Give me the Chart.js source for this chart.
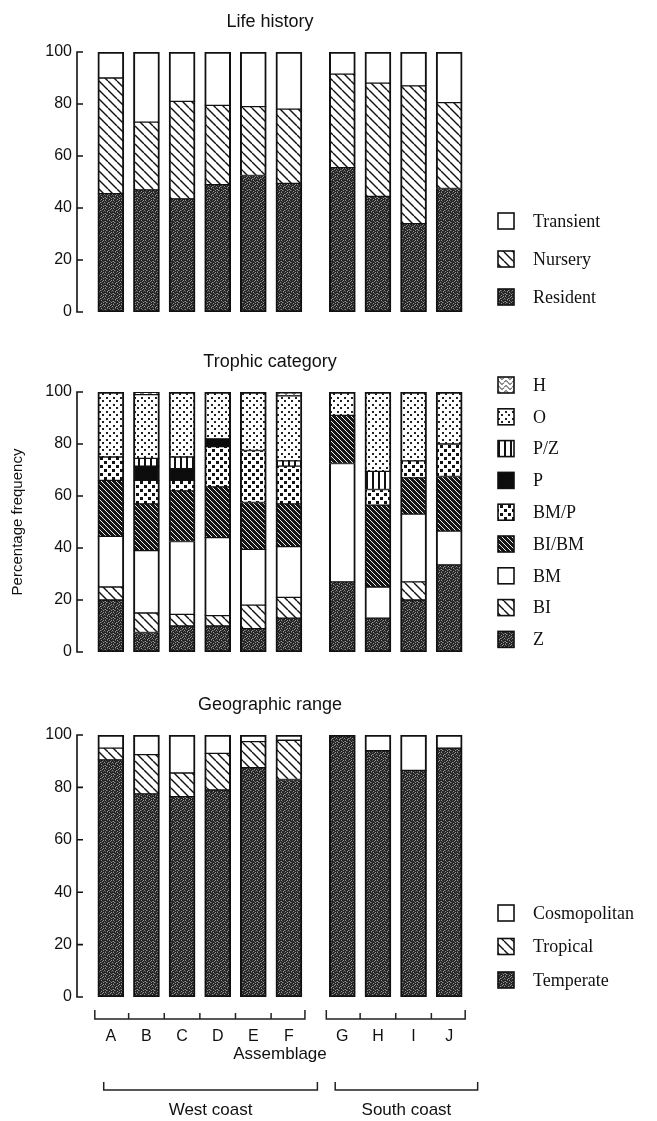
<!DOCTYPE html>
<html>
<head>
<meta charset="utf-8">
<script src="https://cdn.jsdelivr.net/npm/chart.js@4.4.1/dist/chart.umd.min.js"></script>
<style>
  html, body { margin: 0; padding: 0; background: #fff; }
  #wrap { position: relative; width: 657px; height: 1121px; overflow: hidden; }
  #wrap canvas { position: absolute; left: 0; }
</style>
</head>
<body>
<div id="wrap">
  <canvas id="lifeChart" width="657" height="340" style="top:0px"></canvas>
  <canvas id="trophicChart" width="657" height="340" style="top:340px"></canvas>
  <canvas id="rangeChart" width="657" height="441" style="top:680px"></canvas>
</div>
<script>
var westSites = ['A', 'B', 'C', 'D', 'E', 'F'];
var southSites = ['G', 'H', 'I', 'J'];
var sites = westSites.concat(southSites);
var yTicks = [0, 20, 40, 60, 80, 100];

// Life history (% of species)
var resident  = [45.5, 47, 43.5, 49, 52.5, 49.5, 55.5, 44.5, 34, 47.5];
var nursery   = [44.5, 26, 37.5, 30.5, 26.5, 28.5, 36, 43.5, 53, 33];
var transient = [10, 27, 19, 20.5, 21, 22, 8.5, 12, 13, 19.5];

// Trophic category
var trophZ    = [20, 7.5, 10, 10, 9, 13, 27, 13, 20, 33.5];
var trophBI   = [5, 7.5, 4.5, 4, 9, 8, 0, 0, 7, 0];
var trophBM   = [19.5, 24, 28, 30, 21.5, 19.5, 45.5, 12, 26, 13];
var trophBIBM = [21.5, 18, 19.5, 19.5, 18, 16.5, 18.5, 31.5, 14, 21];
var trophBMP  = [9, 9, 4, 15.5, 20, 14.5, 0, 6, 6.5, 12.5];
var trophP    = [0, 5.5, 4.5, 3, 0, 0, 0, 0, 0, 0];
var trophPZ   = [0, 3, 4.5, 0, 0, 2, 0, 7, 0, 0];
var trophO    = [25, 24.5, 25, 18, 22.5, 25, 9, 30.5, 26.5, 20];
var trophH    = [0, 1, 0, 0, 0, 1.5, 0, 0, 0, 0];

// Geographic range
var temperate    = [90.5, 77.5, 76.5, 79, 87.5, 83, 100, 94, 86.5, 95];
var tropical     = [4.5, 15, 9, 14, 10, 15, 0, 0, 0, 0];
var cosmopolitan = [5, 7.5, 14.5, 7, 2.5, 2, 0, 6, 13.5, 5];

// half a slot of space between the two coasts
var coastGap = 0.5;
var sitePos = sites.map(function (s, i) { return i + (i >= westSites.length ? coastGap : 0); });

var SANS = '"Liberation Sans", Arial, sans-serif';
var SERIF = '"Liberation Serif", "Times New Roman", serif';
var INK = '#111';

/* ---- fill patterns ---- */
function makePattern(w, h, draw) {
  var c = document.createElement('canvas');
  c.width = w; c.height = h;
  var g = c.getContext('2d');
  g.fillStyle = '#fff';
  g.fillRect(0, 0, w, h);
  draw(g, w, h);
  return g.createPattern(c, 'repeat');
}

// speckled grey used for Resident / Z / Temperate
var stippleMap = [
  '.o..+..o',
  '..+...o.',
  'o...o+..',
  '.+.o...+',
  '...+.o..',
  '+o....+.',
  '..o+...o',
  '.+...o..'
];
var stippleCol = { '.': '#242424', '+': '#5a5a5a', 'o': '#969696' };

var fillStipple = makePattern(8, 8, function (g) {
  stippleMap.forEach(function (row, y) {
    row.split('').forEach(function (ch, x) {
      g.fillStyle = stippleCol[ch];
      g.fillRect(x, y, 1, 1);
    });
  });
});
var fillHatch = makePattern(9, 9, function (g, w, h) {
  g.strokeStyle = INK; g.lineWidth = 1.4;
  [-w, 0, w].forEach(function (k) { g.beginPath(); g.moveTo(k, 0); g.lineTo(k + w, h); g.stroke(); });
});
var fillDarkHatch = makePattern(5, 5, function (g, w, h) {
  g.fillStyle = '#161616'; g.fillRect(0, 0, w, h);
  g.strokeStyle = '#eee'; g.lineWidth = 1;
  [-w, 0, w].forEach(function (k) { g.beginPath(); g.moveTo(k, 0); g.lineTo(k + w, h); g.stroke(); });
});
var fillBlots = makePattern(8, 8, function (g) {
  g.fillStyle = INK;
  g.fillRect(0, 1, 3, 3);
  g.fillRect(4, 5, 3, 3);
});
var fillDots = makePattern(7, 7, function (g) {
  g.fillStyle = '#222';
  g.fillRect(1, 1, 2, 2);
  g.fillRect(4, 4, 2, 2);
});
var fillVLines = makePattern(6, 1, function (g) {
  g.fillStyle = INK; g.fillRect(0, 0, 2, 1);
});
var fillWaves = makePattern(8, 5, function (g) {
  g.strokeStyle = INK; g.lineWidth = 1;
  g.beginPath(); g.moveTo(0, 2.5);
  g.bezierCurveTo(2, 0, 2, 0, 4, 2.5);
  g.bezierCurveTo(6, 5, 6, 5, 8, 2.5);
  g.stroke();
});
var fillWhite = '#fff';
var fillBlack = '#0c0c0c';

// thicker outline on the outer top/bottom of each stacked bar
function segmentBorder(ctx) {
  var sets = ctx.chart.data.datasets, i = ctx.dataIndex, d = ctx.datasetIndex;
  var filled = function (k) { return sets[k].data[i].y !== null; };
  var above = false, below = false;
  for (var k = d + 1; k < sets.length; k++) { if (filled(k)) above = true; }
  for (var k2 = 0; k2 < d; k2++) { if (filled(k2)) below = true; }
  return { top: above ? 1 : 2, bottom: below ? 1 : 2, left: 2, right: 2 };
}

function stackSet(label, values, fill) {
  return {
    label: label,
    data: values.map(function (v, i) { return { x: sitePos[i], y: v > 0 ? v : null }; }),
    backgroundColor: fill,
    borderColor: INK,
    borderWidth: segmentBorder,
    borderSkipped: false,
    barThickness: 26
  };
}

/* ---- plugins ---- */
var inwardAxis = {
  id: 'inwardAxis',
  afterDraw: function (chart) {
    var ctx = chart.ctx, y = chart.scales.y, x0 = chart.chartArea.left;
    ctx.save();
    ctx.strokeStyle = INK; ctx.lineWidth = 1.6;
    ctx.beginPath();
    ctx.moveTo(x0, y.getPixelForValue(100) - 0.8);
    ctx.lineTo(x0, y.getPixelForValue(0) + 0.8);
    yTicks.forEach(function (v) {
      var py = y.getPixelForValue(v);
      ctx.moveTo(x0, py); ctx.lineTo(x0 + 6, py);
    });
    ctx.stroke();
    ctx.restore();
  }
};

var panelTitle = {
  id: 'panelTitle',
  afterDraw: function (chart, args, opts) {
    var ctx = chart.ctx;
    ctx.save();
    ctx.font = '18px ' + SANS;
    ctx.fillStyle = INK;
    ctx.textAlign = 'center';
    ctx.textBaseline = 'middle';
    ctx.fillText(opts.text, opts.x, chart.chartArea.top - opts.gap);
    ctx.restore();
  }
};

var swatchLegend = {
  id: 'swatchLegend',
  afterDraw: function (chart, args, opts) {
    var ctx = chart.ctx;
    var sets = chart.data.datasets.slice().reverse();
    ctx.save();
    ctx.font = '18px ' + SERIF;
    ctx.textBaseline = 'middle';
    sets.forEach(function (ds, i) {
      var cy = opts.top + i * opts.step;
      ctx.fillStyle = ds.backgroundColor;
      ctx.fillRect(opts.x, cy - 8, 16, 16);
      ctx.strokeStyle = INK; ctx.lineWidth = 1.6;
      ctx.strokeRect(opts.x, cy - 8, 16, 16);
      ctx.fillStyle = INK;
      ctx.fillText(ds.label, opts.x + 35, cy + 1);
    });
    ctx.restore();
  }
};

// brackets under the bottom panel
var coastBrackets = {
  id: 'coastBrackets',
  afterDraw: function (chart, args, opts) {
    var ctx = chart.ctx, xs = chart.scales.x;
    var groups = [
      { name: 'West coast', pos: sitePos.slice(0, westSites.length) },
      { name: 'South coast', pos: sitePos.slice(westSites.length) }
    ];
    ctx.save();
    ctx.strokeStyle = '#222'; ctx.lineWidth = 1.5;
    ctx.fillStyle = INK;
    ctx.font = '17px ' + SANS;
    ctx.textAlign = 'center';
    ctx.textBaseline = 'middle';
    groups.forEach(function (g) {
      var p = g.pos, first = p[0], last = p[p.length - 1];
      // small bracket with a tick between each pair of bars
      var l = xs.getPixelForValue(first - 0.45), r = xs.getPixelForValue(last + 0.45);
      ctx.beginPath();
      ctx.moveTo(l, opts.smallY - 9); ctx.lineTo(l, opts.smallY);
      ctx.lineTo(r, opts.smallY); ctx.lineTo(r, opts.smallY - 9);
      for (var i = 1; i < p.length; i++) {
        var mx = xs.getPixelForValue((p[i - 1] + p[i]) / 2);
        ctx.moveTo(mx, opts.smallY); ctx.lineTo(mx, opts.smallY - 6);
      }
      ctx.stroke();
      // large coast bracket
      var bl = xs.getPixelForValue(first - 0.2), br = xs.getPixelForValue(last + 0.8);
      ctx.beginPath();
      ctx.moveTo(bl, opts.bigY - 8); ctx.lineTo(bl, opts.bigY);
      ctx.lineTo(br, opts.bigY); ctx.lineTo(br, opts.bigY - 8);
      ctx.stroke();
      ctx.fillText(g.name, (bl + br) / 2, opts.bigY + 20);
    });
    ctx.restore();
  }
};

function yScale(withTitle) {
  return {
    type: 'linear',
    stacked: true,
    min: 0,
    max: 100,
    afterBuildTicks: function (scale) { scale.ticks = yTicks.map(function (v) { return { value: v }; }); },
    afterFit: function (scale) { scale.width = 77; },
    grid: { display: false, drawTicks: false },
    border: { display: false },
    ticks: { color: INK, padding: 5, font: { family: SANS, size: 16 } },
    title: {
      display: withTitle,
      text: 'Percentage frequency',
      color: INK,
      font: { family: SANS, size: 15 },
      padding: { top: 9, bottom: 0 }
    }
  };
}

function xScale(showLabels) {
  return {
    type: 'linear',
    stacked: true,
    offset: false,
    min: -0.95,
    max: 10.45,
    display: showLabels,
    afterBuildTicks: function (scale) { scale.ticks = sitePos.map(function (v) { return { value: v }; }); },
    afterFit: function (scale) { scale.height = showLabels ? 68 : 0; },
    grid: { display: false, drawTicks: false, offset: false },
    border: { display: false },
    ticks: {
      autoSkip: false,
      maxRotation: 0,
      padding: 30,
      color: INK,
      font: { family: SANS, size: 16 },
      callback: function (value, index) { return sites[index]; }
    },
    title: {
      display: showLabels,
      text: 'Assemblage',
      color: INK,
      font: { family: SANS, size: 17 },
      padding: { top: 0, bottom: 0 }
    }
  };
}

function panel(id, datasets, opt) {
  var ctx = document.getElementById(id).getContext('2d');
  return new Chart(ctx, {
    type: 'bar',
    data: { datasets: datasets },
    options: {
      responsive: false,
      animation: false,
      events: [],
      layout: { padding: { top: opt.padTop, bottom: opt.padBottom, left: 0, right: 174 } },
      scales: { x: xScale(opt.xLabels), y: yScale(opt.yTitle) },
      plugins: {
        legend: { display: false },
        tooltip: { enabled: false },
        panelTitle: { text: opt.title, x: 270, gap: 30 },
        swatchLegend: { x: 498, top: opt.legendTop, step: opt.legendStep },
        coastBrackets: { smallY: 339, bigY: 410 }
      }
    },
    plugins: [inwardAxis, panelTitle, swatchLegend].concat(opt.xLabels ? [coastBrackets] : [])
  });
}

panel('lifeChart', [
  stackSet('Resident', resident, fillStipple),
  stackSet('Nursery', nursery, fillHatch),
  stackSet('Transient', transient, fillWhite)
], { title: 'Life history', padTop: 52, padBottom: 28, legendTop: 221, legendStep: 38, xLabels: false, yTitle: false });

panel('trophicChart', [
  stackSet('Z', trophZ, fillStipple),
  stackSet('BI', trophBI, fillHatch),
  stackSet('BM', trophBM, fillWhite),
  stackSet('BI/BM', trophBIBM, fillDarkHatch),
  stackSet('BM/P', trophBMP, fillBlots),
  stackSet('P', trophP, fillBlack),
  stackSet('P/Z', trophPZ, fillVLines),
  stackSet('O', trophO, fillDots),
  stackSet('H', trophH, fillWaves)
], { title: 'Trophic category', padTop: 52, padBottom: 28, legendTop: 45, legendStep: 31.8, xLabels: false, yTitle: true });

panel('rangeChart', [
  stackSet('Temperate', temperate, fillStipple),
  stackSet('Tropical', tropical, fillHatch),
  stackSet('Cosmopolitan', cosmopolitan, fillWhite)
], { title: 'Geographic range', padTop: 55, padBottom: 56, legendTop: 233, legendStep: 33.5, xLabels: true, yTitle: false });
</script>
</body>
</html>
